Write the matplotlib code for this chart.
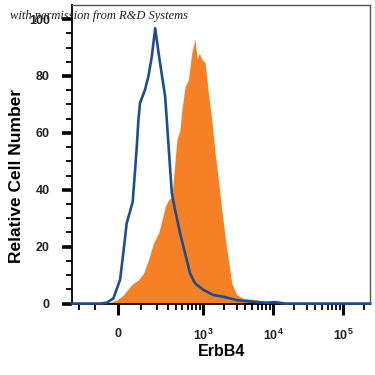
import numpy as np
import matplotlib
matplotlib.use('Agg')
import matplotlib.pyplot as plt
from matplotlib.ticker import FixedLocator, FixedFormatter

plt.rcParams['font.family'] = ['Liberation Sans', 'DejaVu Sans']
plt.rcParams['mathtext.fontset'] = 'custom'
plt.rcParams['mathtext.bf'] = 'Liberation Sans:bold'
plt.rcParams['mathtext.rm'] = 'Liberation Sans'

# Data (fluorescence intensity, relative cell number)
isotype_x = [-264, -76, -46, -19, 8, 21, 35, 49, 61, 72, 80, 88, 96, 123, 143, 165,
             189, 215, 245, 274, 298, 320, 347, 389, 461, 546, 645, 763, 1005, 1399,
             1946, 3026, 5225, 8119, 10665, 15000, 242800]
isotype_y = [0, 0, 0.3, 1.8, 8.3, 17.7, 28.2, 32.3, 35.8, 47, 55.2, 64.6, 70.5, 75.2, 79.9, 86.9,
             96.8, 88.1, 79.9, 72.8, 61, 50.5, 38.8, 32.9, 24.7, 17.7, 10.6, 7.1, 4.8, 3,
             2.4, 1.2, 0.6, 0.3, 0.5, 0, 0]

erbb4_x = [-46, -5, 21, 49, 64, 88, 114, 143, 176, 215, 245, 274, 309, 347, 389, 413,
           461, 489, 546, 610, 683, 763, 815, 880, 954, 1064, 1186, 1327, 1480, 1651,
           1846, 2058, 2295, 2567, 3026, 3761, 5225, 8119, 17480]
erbb4_y = [0, 1.2, 3, 5.9, 7.1, 8.3, 10.6, 15.3, 21.2, 24.7, 29.4, 34.1, 36.4, 37.6, 50.5, 57.6,
           61.1, 68.1, 76.3, 78.7, 88.1, 93, 86, 88, 86, 84.6, 74, 64.6, 52.9, 43.5,
           32.9, 23.5, 15.3, 7.1, 3, 1.8, 1.5, 0.6, 0]

x_major = [0, 1e3, 1e4, 1e5]
x_major_labels = ['0', '$\\mathbf{10^3}$', '$\\mathbf{10^4}$', '$\\mathbf{10^5}$']
y_major = [0, 20, 40, 60, 80, 100]

# biexponential-like display scale
C = 122.0
def fwd(v):
    return np.arcsinh(np.asarray(v, dtype=float) / C)
def inv(u):
    return C * np.sinh(np.asarray(u, dtype=float))

fig = plt.figure(figsize=(3.75, 3.75), dpi=100)
ax = fig.add_axes([0.192, 0.189, 0.795, 0.798])
ax.set_xscale('function', functions=(fwd, inv))

ax.fill_between(erbb4_x, erbb4_y, 0, color='#F58025', linewidth=0, zorder=2)
ax.plot(isotype_x, isotype_y, color='#1F4E8C', linewidth=1.9, zorder=3, clip_on=False)

ax.set_xlim(-264, 242800)
ax.set_ylim(-0.2, 105)

# ticks
x_minor = [-200, -100] + [m * 10 ** e for e in (2, 3, 4) for m in range(1, 10)] + [2e5]
x_minor = [t for t in x_minor if t not in x_major]
ax.xaxis.set_major_locator(FixedLocator(x_major))
ax.xaxis.set_major_formatter(FixedFormatter(x_major_labels))
ax.xaxis.set_minor_locator(FixedLocator(x_minor))
ax.set_yticks(y_major)
ax.set_yticks(np.arange(0, 105, 5), minor=True)

ax.tick_params(axis='y', which='major', direction='out', length=7, width=2.6,
               labelsize=9, pad=9, colors='black', labelcolor='#222222')
ax.tick_params(axis='y', which='minor', direction='out', length=4, width=1.3, colors='black')
ax.tick_params(axis='x', which='major', direction='out', length=8, width=2.2,
               labelsize=9, pad=9, colors='black', labelcolor='#222222')
ax.tick_params(axis='x', which='minor', direction='out', length=4, width=1.3, colors='black')
for lab in ax.get_yticklabels() + ax.get_xticklabels():
    lab.set_fontweight('bold')

for s in ['top', 'right']:
    ax.spines[s].set_color('#555555')
    ax.spines[s].set_linewidth(1.0)
for s in ['left', 'bottom']:
    ax.spines[s].set_color('black')
    ax.spines[s].set_linewidth(1.3)

ax.set_xlabel('ErbB4', fontsize=11.5, fontweight='bold', labelpad=1)
ax.set_ylabel('Relative Cell Number', fontsize=12.5, fontweight='bold')
ax.yaxis.set_label_coords(-0.16, 0.43)

fig.text(0.027, 0.957, 'with permission from R&D Systems', fontsize=9,
         family='Liberation Serif', style='italic', color='#222222', va='center')

fig.savefig('out.png', dpi=100)
